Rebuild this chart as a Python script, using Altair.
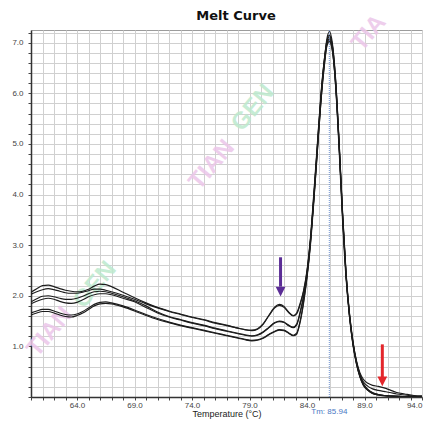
import altair as alt
import pandas as pd

# ---- data ----
TEMPS = [60.0, 60.5, 61.0, 61.5, 62.0, 62.5, 63.0, 63.5, 64.0, 64.5, 65.0, 65.5, 66.0, 66.5,
         67.0, 68.0, 69.0, 70.0, 71.0, 72.0, 73.0, 74.0, 75.0, 76.0, 77.0, 78.0, 78.6, 79.2,
         79.7, 80.2, 80.7, 81.2, 81.6, 82.0, 82.4, 82.8, 83.1, 83.4, 83.7, 84.0, 84.3, 84.6,
         84.9, 85.2, 85.5, 85.75, 85.95, 86.2, 86.5, 86.8, 87.1, 87.4, 87.7, 88.0, 88.3, 88.6,
         88.9, 89.3, 89.7, 90.2, 90.7, 91.2, 91.8, 92.5, 93.3, 94.3]

A1 = [2.07, 2.14, 2.20, 2.21, 2.18, 2.14, 2.11, 2.09, 2.08, 2.09, 2.13, 2.19, 2.23, 2.22,
      2.18, 2.07, 1.96, 1.86, 1.77, 1.70, 1.64, 1.58, 1.53, 1.47, 1.42, 1.36, 1.33, 1.31,
      1.34, 1.44, 1.62, 1.78, 1.83, 1.79, 1.68, 1.61, 1.66, 1.85, 2.10, 2.50, 3.15, 4.05,
      5.00, 5.95, 6.65, 7.05, 7.15, 6.95, 6.20, 4.95, 3.55, 2.40, 1.62, 1.08, 0.72, 0.48,
      0.35, 0.27, 0.23, 0.21, 0.18, 0.14, 0.09, 0.06, 0.03, 0.02]
A2 = [2.03, 2.08, 2.12, 2.14, 2.12, 2.09, 2.06, 2.05, 2.05, 2.07, 2.10, 2.13, 2.13, 2.11,
      2.08, 2.01, 1.93, 1.84, 1.76, 1.69, 1.63, 1.57, 1.52, 1.46, 1.41, 1.36, 1.33, 1.32,
      1.35, 1.45, 1.61, 1.76, 1.81, 1.77, 1.67, 1.60, 1.64, 1.82, 2.08, 2.48, 3.10, 3.95,
      4.90, 5.85, 6.60, 7.00, 7.08, 6.90, 6.10, 4.85, 3.45, 2.33, 1.57, 1.04, 0.69, 0.45,
      0.30, 0.21, 0.16, 0.13, 0.11, 0.09, 0.06, 0.04, 0.02, 0.01]
B1 = [1.88, 1.94, 1.99, 2.00, 1.98, 1.95, 1.93, 1.93, 1.95, 1.99, 2.04, 2.08, 2.09, 2.08,
      2.05, 1.98, 1.90, 1.80, 1.68, 1.59, 1.53, 1.47, 1.42, 1.36, 1.31, 1.26, 1.23, 1.21,
      1.23, 1.29, 1.38, 1.47, 1.50, 1.48, 1.42, 1.38, 1.44, 1.68, 2.00, 2.45, 3.10, 4.00,
      4.95, 5.90, 6.65, 7.10, 7.22, 7.00, 6.25, 5.00, 3.60, 2.42, 1.62, 1.06, 0.68, 0.42,
      0.25, 0.14, 0.08, 0.05, 0.03, 0.02, 0.02, 0.01, 0.01, 0.01]
B2 = [1.84, 1.89, 1.93, 1.95, 1.93, 1.89, 1.86, 1.85, 1.87, 1.92, 1.98, 2.02, 2.04, 2.04,
      2.02, 1.95, 1.88, 1.77, 1.66, 1.58, 1.52, 1.46, 1.41, 1.35, 1.30, 1.25, 1.22, 1.20,
      1.22, 1.28, 1.37, 1.46, 1.49, 1.47, 1.41, 1.37, 1.42, 1.65, 1.97, 2.40, 3.05, 3.90,
      4.85, 5.80, 6.55, 6.98, 7.05, 6.85, 6.15, 4.95, 3.55, 2.38, 1.58, 1.02, 0.65, 0.40,
      0.24, 0.13, 0.07, 0.04, 0.03, 0.02, 0.01, 0.01, 0.01, 0.00]
C1 = [1.66, 1.70, 1.73, 1.73, 1.70, 1.66, 1.63, 1.62, 1.64, 1.69, 1.76, 1.83, 1.87, 1.88,
      1.86, 1.80, 1.72, 1.63, 1.55, 1.48, 1.42, 1.37, 1.32, 1.27, 1.22, 1.17, 1.14, 1.12,
      1.13, 1.17, 1.24, 1.30, 1.33, 1.32, 1.27, 1.22, 1.26, 1.50, 1.88, 2.38, 3.05, 3.95,
      4.95, 5.90, 6.62, 7.05, 7.12, 6.95, 6.20, 5.00, 3.62, 2.45, 1.65, 1.10, 0.70, 0.43,
      0.26, 0.15, 0.09, 0.05, 0.03, 0.02, 0.02, 0.01, 0.01, 0.01]
C2 = [1.62, 1.66, 1.69, 1.69, 1.66, 1.62, 1.59, 1.58, 1.61, 1.66, 1.73, 1.80, 1.84, 1.85,
      1.84, 1.78, 1.70, 1.61, 1.53, 1.47, 1.41, 1.36, 1.31, 1.26, 1.21, 1.16, 1.13, 1.11,
      1.12, 1.16, 1.23, 1.29, 1.32, 1.31, 1.26, 1.21, 1.24, 1.47, 1.85, 2.35, 3.00, 3.88,
      4.85, 5.80, 6.52, 6.95, 7.02, 6.85, 6.12, 4.92, 3.55, 2.40, 1.60, 1.05, 0.66, 0.40,
      0.23, 0.13, 0.07, 0.04, 0.02, 0.02, 0.01, 0.01, 0.01, 0.00]
CURVES = {"A1": A1, "A2": A2, "B1": B1, "B2": B2, "C1": C1, "C2": C2}

X_DOMAIN = [60, 94.0]
Y_DOMAIN = [0, 7.25]
X_TICKS = list(range(60, 95))
Y_TICKS = [round(i * 0.2, 1) for i in range(37)]

TITLE = "Melt Curve"
X_TITLE = "Temperature (°C)"
TM = 85.94
TM_LABEL = "Tm: 85.94"

ARROW_TEMP = [81.7, 90.55]
ARROW_TOP = [2.76, 1.04]
ARROW_END = [2.18, 0.38]
ARROW_HEAD = [2.08, 0.31]
ARROW_COLOR = ["#5b2d96", "#e3262b"]

# ---- tables ----
rows = []
for name, vals in CURVES.items():
    for t, v in zip(TEMPS, vals):
        rows.append({"curve": name, "temp": t, "value": v})
curves_df = pd.DataFrame(rows)
tm_df = pd.DataFrame({"temp": [TM], "label": [TM_LABEL]})
arrow_df = pd.DataFrame({"temp": ARROW_TEMP, "top": ARROW_TOP, "end": ARROW_END,
                         "head": ARROW_HEAD, "color": ARROW_COLOR})

W, H = 391, 367
FONT = "Liberation Sans"
X_AXIS = alt.Axis(values=X_TICKS,
                  labelExpr="datum.value >= 64 && (datum.value - 64) % 5 == 0 ? format(datum.value, '.1f') : ''",
                  labelAlign={"condition": {"test": "datum.value >= 94", "value": "right"}, "value": "center"},
                  grid=True, gridColor="#d0d0d0", gridWidth=1,
                  tickSize=3, tickColor="#444", domainColor="#333", domainWidth=1.5,
                  labelFont=FONT, labelFontSize=8, labelColor="#444", labelPadding=1,
                  labelOverlap=False, labelFlush=False, labelBound=False,
                  titleFont=FONT, titleFontSize=9, titleFontWeight="normal",
                  titleColor="#222", titlePadding=0)
Y_AXIS = alt.Axis(values=Y_TICKS,
                  labelExpr="datum.value >= 1 && abs(datum.value - round(datum.value)) < 0.01 ? format(datum.value, '.1f') : ''",
                  grid=True, gridColor="#d0d0d0", gridWidth=1,
                  tickSize=3, tickColor="#444", domainColor="#333", domainWidth=1.5,
                  labelFont=FONT, labelFontSize=8, labelColor="#444", labelPadding=5,
                  labelOverlap=False, labelFlush=False, labelBound=False, title=None)

xs = alt.Scale(domain=X_DOMAIN, nice=False, zero=False)
ys = alt.Scale(domain=Y_DOMAIN, nice=False, zero=False)
X = alt.X("temp:Q", scale=xs, axis=X_AXIS, title=X_TITLE)
Y = alt.Y("value:Q", scale=ys, axis=Y_AXIS, title=None)

# watermarks (decorative)
wm = []
for txt, px, py, col in [("TIAN", 181, 135, "#ecc6e9"), ("GEN", 222, 78, "#bde9cd"),
                         ("TIAN", 19, 302, "#ecc6e9"), ("GEN", 64, 255, "#bde9cd"),
                         ("TIA", 338, 3, "#ecc6e9")]:
    wm.append(alt.Chart(pd.DataFrame({"t": [txt]})).mark_text(
        font=FONT, fontWeight="bold", fontSize=24, angle=310, color=col, opacity=0.85
    ).encode(x=alt.value(px), y=alt.value(py), text="t:N"))

title = alt.Chart(pd.DataFrame({"t": [TITLE]})).mark_text(
    font="DejaVu Sans", fontWeight="bold", fontSize=13, color="#111", baseline="middle"
).encode(x=alt.value(205), y=alt.value(-14), text="t:N")

lines = alt.Chart(curves_df).mark_line(interpolate="monotone", color="#1c1c1c",
                                       strokeWidth=1.15, clip=True).encode(x=X, y=Y, detail="curve:N")

tm_rule = alt.Chart(tm_df).mark_rule(color="#6f93d0", strokeWidth=1, strokeDash=[1, 1]).encode(x=X)
tm_text = alt.Chart(tm_df).mark_text(font=FONT, fontSize=8, color="#4a78c4", baseline="middle").encode(
    x=X, y=alt.value(H + 15), text="label:N")

shafts = alt.Chart(arrow_df).mark_rule(strokeWidth=3).encode(
    x=X, y=alt.Y("top:Q", scale=ys, axis=Y_AXIS, title=None), y2="end:Q",
    color=alt.Color("color:N", scale=None))
heads = alt.Chart(arrow_df).mark_point(shape="M-1,-1L1,-1L0,1Z", filled=True, size=95,
                                       opacity=1).encode(
    x=X, y=alt.Y("head:Q", scale=ys, axis=Y_AXIS, title=None),
    color=alt.Color("color:N", scale=None))

chart = alt.layer(*wm, lines, tm_rule, tm_text, shafts, heads, title).properties(
    width=W, height=H,
    autosize=alt.AutoSizeParams(type="none"),
    padding={"left": 23, "top": 22, "right": 1, "bottom": 22},
).configure_view(stroke="#9c9c9c", strokeWidth=1)

chart.save("out.html", embed_options={"renderer": "svg", "actions": False})
